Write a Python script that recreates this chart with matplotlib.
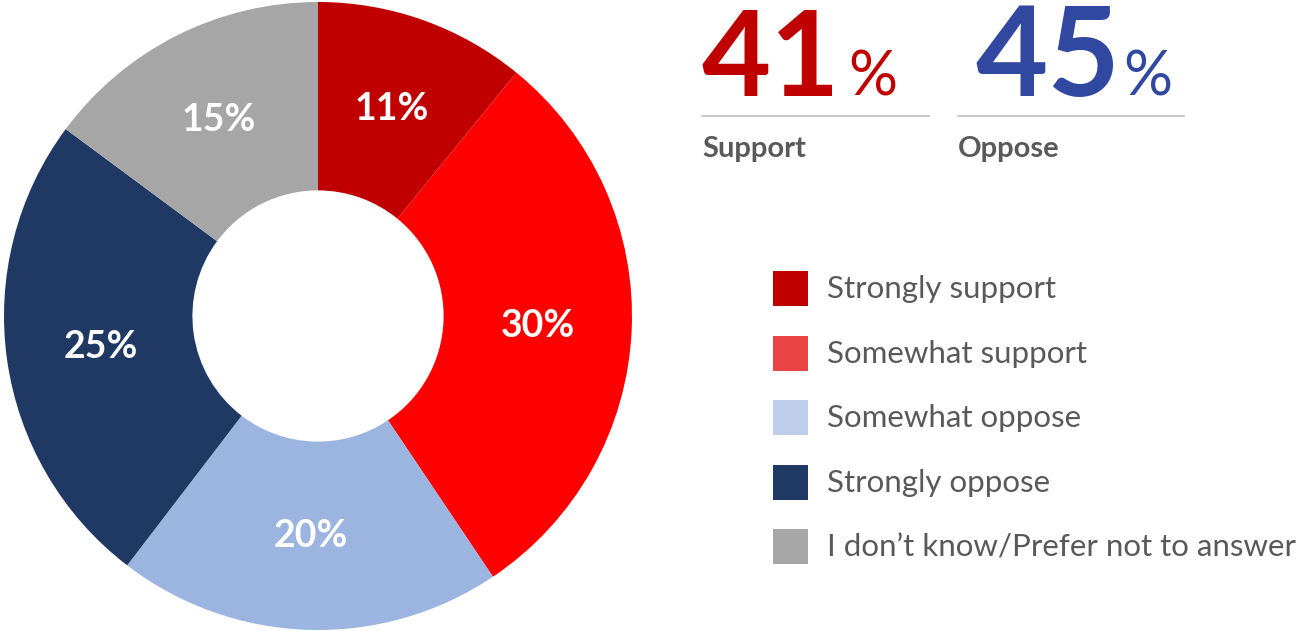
import matplotlib
matplotlib.use("Agg")
import matplotlib.pyplot as plt
from matplotlib.patches import Rectangle
from matplotlib.lines import Line2D

categories = ["Strongly support", "Somewhat support", "Somewhat oppose",
              "Strongly oppose", "I don\u2019t know/Prefer not to answer"]
values = [11, 30, 20, 25, 15]
pie_colors = ["#C00000", "#FF0000", "#9CB4E0", "#203864", "#A6A6A6"]
legend_colors = ["#C00000", "#EA4444", "#BFCFEB", "#203864", "#A6A6A6"]
summary_labels = ["Support", "Oppose"]
summary_values = [41, 45]
summary_colors = ["#C00000", "#30489F"]

W, H = 1299, 631
fig = plt.figure(figsize=(W / 100, H / 100), dpi=100)
FONT = "Lato"

# Donut
cx, cy, R = 318, 316, 314
ax = fig.add_axes([(cx - R) / W, (H - cy - R) / H, 2 * R / W, 2 * R / H])
wedges, texts, autotexts = ax.pie(
    values, colors=pie_colors, startangle=90, counterclock=False, radius=1,
    wedgeprops=dict(width=0.6, edgecolor="none"),
    autopct=lambda p: "", pctdistance=0.70)
for w, v, t in zip(wedges, values, autotexts):
    t.set_text(f"{v}%")
    t.set_color("white")
    t.set_fontsize(27)
    t.set_fontweight("bold")
    t.set_family(FONT)
ax.set_xlim(-1, 1)
ax.set_ylim(-1, 1)
ax.set_aspect("equal")
ax.axis("off")

def fx(px):
    return px / W

def fy(py):
    return 1 - py / H

# Summary numbers
num_x = [702, 975]
num_size = [86, 90]
pct_x = [848, 1123]
line_x = [(702, 929), (958, 1184)]
lab_x = [702, 958]
for i, (lab, val, col) in enumerate(zip(summary_labels, summary_values, summary_colors)):
    fig.text(fx(num_x[i]), fy(96), f"{val}", color=col, fontsize=num_size[i],
             fontweight="bold", family=FONT, ha="left", va="baseline")
    fig.text(fx(pct_x[i]), fy(95), "%", color=col, fontsize=44,
             family=FONT, ha="left", va="baseline")
    fig.add_artist(Line2D([fx(line_x[i][0]), fx(line_x[i][1])], [fy(116), fy(116)],
                          color="#BFBFBF", lw=1.2, transform=fig.transFigure))
    fig.text(fx(lab_x[i]), fy(149), lab, color="#595959", fontsize=21,
             fontweight="bold", family=FONT, ha="left", va="center")

# Legend
row_y = [288, 353, 417, 482, 546]
sq = 35
for cat, col, y in zip(categories, legend_colors, row_y):
    fig.add_artist(Rectangle((fx(773), fy(y + sq / 2)), sq / W, sq / H,
                             facecolor=col, edgecolor="none",
                             transform=fig.transFigure))
    fig.text(fx(827), fy(y + 1), cat, color="#595959", fontsize=22.5,
             family=FONT, ha="left", va="center")

fig.savefig("out.png", dpi=100)
